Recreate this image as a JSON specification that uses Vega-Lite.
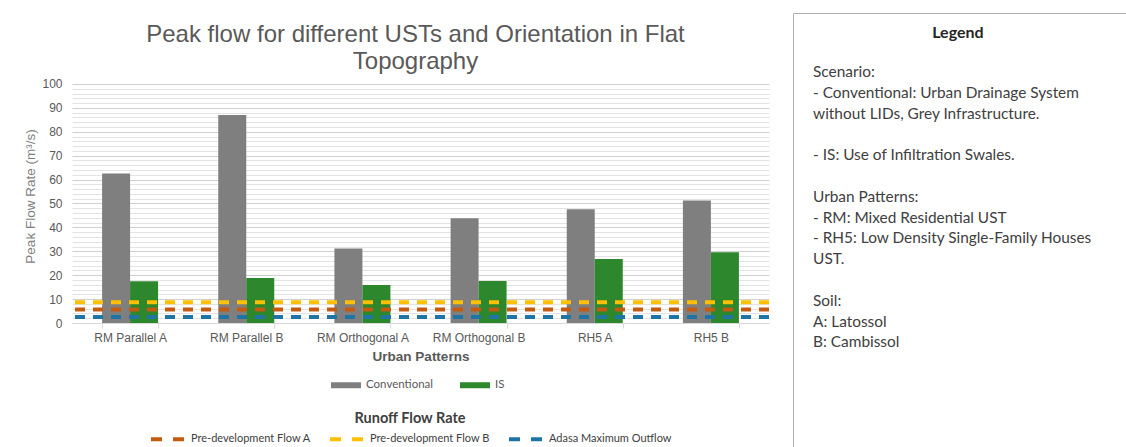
{
  "$schema": "https://vega.github.io/schema/vega-lite/v6.json",
  "background": "white",
  "padding": {"left": 23, "top": 12, "right": 0, "bottom": 0},
  "spacing": 21,
  "config": {"view": {"stroke": null}, "font": "Liberation Sans"},
  "hconcat": [
    {
      "width": 697,
      "height": 310,
      "title": {
        "text": ["Peak flow for different USTs and Orientation in Flat", "Topography"],
        "font": "Liberation Sans",
        "fontSize": 24,
        "fontWeight": "normal",
        "color": "#595959",
        "anchor": "middle",
        "frame": "group",
        "lineHeight": 27,
        "offset": -61,
        "dx": -5
      },
      "layer": [
        {
          "data": {
            "values": [
              {"pattern": "RM Parallel A", "scenario": "Conventional", "value": 62.5},
              {"pattern": "RM Parallel A", "scenario": "IS", "value": 17.5},
              {"pattern": "RM Parallel B", "scenario": "Conventional", "value": 87.0},
              {"pattern": "RM Parallel B", "scenario": "IS", "value": 18.8},
              {"pattern": "RM Orthogonal A", "scenario": "Conventional", "value": 31.2},
              {"pattern": "RM Orthogonal A", "scenario": "IS", "value": 15.9},
              {"pattern": "RM Orthogonal B", "scenario": "Conventional", "value": 43.8},
              {"pattern": "RM Orthogonal B", "scenario": "IS", "value": 17.6},
              {"pattern": "RH5 A", "scenario": "Conventional", "value": 47.6},
              {"pattern": "RH5 A", "scenario": "IS", "value": 26.8},
              {"pattern": "RH5 B", "scenario": "Conventional", "value": 51.3},
              {"pattern": "RH5 B", "scenario": "IS", "value": 29.6}
            ]
          },
          "mark": {"type": "bar"},
          "encoding": {
            "x": {
              "field": "pattern",
              "type": "nominal",
              "sort": null,
              "scale": {"paddingInner": 0.518, "paddingOuter": 0.259},
              "axis": {
                "title": "Urban Patterns",
                "titleFont": "Liberation Sans",
                "titleFontSize": 13.5,
                "titleFontWeight": "bold",
                "titleColor": "#595959",
                "titlePadding": 6,
                "labelFont": "Liberation Sans",
                "labelFontSize": 12,
                "labelColor": "#595959",
                "labelAngle": 0,
                "labelPadding": 4,
                "tickBand": "extent",
                "tickColor": "#d9d9d9",
                "tickSize": 5,
                "domainColor": "#d9d9d9",
                "grid": false
              }
            },
            "xOffset": {
              "field": "scenario",
              "type": "nominal",
              "sort": ["Conventional", "IS"],
              "scale": {"paddingInner": 0, "paddingOuter": 0}
            },
            "y": {
              "field": "value",
              "type": "quantitative",
              "scale": {"domain": [0, 129.7], "nice": false},
              "axis": {
                "title": "Peak Flow Rate (m³/s)",
                "titleFont": "Liberation Sans",
                "titleFontSize": 13.5,
                "titleFontWeight": "normal",
                "titleColor": "#7f7f7f",
                "titlePadding": 4,
                "titleY": 183,
                "tickCount": 200,
                "format": ".0f",
                "values": [0,2,4,6,8,10,12,14,16,18,20,22,24,26,28,30,32,34,36,38,40,42,44,46,48,50,52,54,56,58,60,62,64,66,68,70,72,74,76,78,80,82,84,86,88,90,92,94,96,98,100],
                "labelExpr": "datum.value % 10 === 0 ? datum.label : ''",
                "labelOverlap": false,
                "labelBound": false,
                "labelFont": "Liberation Sans",
                "labelFontSize": 12,
                "labelColor": "#595959",
                "labelPadding": 10,
                "ticks": false,
                "domain": false,
                "grid": true,
                "gridColor": {"condition": {"test": "datum.value % 10 === 0", "value": "#d0d0d0"}, "value": "#e3e3e3"}
              }
            },
            "fill": {
              "field": "scenario",
              "type": "nominal",
              "scale": {"domain": ["Conventional", "IS"], "range": ["#7f7f7f", "#2d872d"]},
              "legend": {
                "orient": "none",
                "legendX": 259,
                "legendY": 357,
                "direction": "horizontal",
                "title": null,
                "padding": 0,
                "symbolType": "M-1,-0.2H1V0.2H-1Z",
                "symbolSize": 900,
                "symbolStrokeWidth": 0,
                "labelFont": "Lato",
                "labelFontSize": 11.5,
                "labelColor": "#595959",
                "labelOffset": 5,
                "columnPadding": 26
              }
            }
          }
        },
        {
          "data": {
            "values": [
              {"series": "Pre-development Flow A", "value": 5.7},
              {"series": "Pre-development Flow B", "value": 8.7},
              {"series": "Adasa Maximum Outflow", "value": 2.5}
            ]
          },
          "mark": {"type": "rule", "strokeDash": [10, 8], "strokeWidth": 4},
          "encoding": {
            "y": {"field": "value", "type": "quantitative"},
            "stroke": {
              "field": "series",
              "type": "nominal",
              "scale": {
                "domain": ["Pre-development Flow A", "Pre-development Flow B", "Adasa Maximum Outflow"],
                "range": ["#c55a11", "#ffc000", "#1f74a6"]
              },
              "legend": {
                "orient": "none",
                "legendX": 77,
                "legendY": 399,
                "direction": "horizontal",
                "padding": 0,
                "title": "Runoff Flow Rate",
                "titleFont": "Lato",
                "titleFontSize": 14.5,
                "titleFontWeight": "bold",
                "titleColor": "#404040",
                "titleAnchor": "middle",
                "titlePadding": -6,
                "symbolType": "stroke",
                "symbolSize": 1089,
                "symbolStrokeWidth": 4,
                "symbolDash": [11, 11],
                "labelFont": "Lato",
                "labelFontSize": 11,
                "labelColor": "#404040",
                "labelOffset": 5,
                "columnPadding": 11
              }
            }
          }
        }
      ]
    },
    {
      "width": 340,
      "height": 445,
      "view": {"stroke": "#b0b0b0", "strokeWidth": 1},
      "data": {
        "values": [
          {"line": -2, "text": "Legend", "kind": "heading"},
          {"line": 0, "text": "Scenario:", "kind": "body"},
          {"line": 1, "text": "- Conventional: Urban Drainage System", "kind": "body"},
          {"line": 2, "text": "without LIDs, Grey Infrastructure.", "kind": "body"},
          {"line": 4, "text": "- IS: Use of Infiltration Swales.", "kind": "body"},
          {"line": 6, "text": "Urban Patterns:", "kind": "body"},
          {"line": 7, "text": "- RM: Mixed Residential UST", "kind": "body"},
          {"line": 8, "text": "- RH5: Low Density Single-Family Houses", "kind": "body"},
          {"line": 9, "text": "UST.", "kind": "body"},
          {"line": 11, "text": "Soil:", "kind": "body"},
          {"line": 12, "text": "A: Latossol", "kind": "body"},
          {"line": 13, "text": "B: Cambissol", "kind": "body"}
        ]
      },
      "layer": [
        {
          "transform": [{"filter": "datum.kind === 'heading'"}],
          "mark": {"type": "text", "font": "Lato", "fontSize": 16, "fontWeight": "bold", "color": "#262626", "align": "center", "baseline": "middle", "dy": 2.6},
          "encoding": {
            "x": {"datum": 0.485, "type": "quantitative", "scale": {"domain": [0, 1]}, "axis": null},
            "y": {"field": "line", "type": "quantitative", "scale": {"domain": [-2.837, 18.558], "reverse": true, "nice": false, "zero": false}, "axis": null},
            "text": {"field": "text"}
          }
        },
        {
          "transform": [{"filter": "datum.kind === 'body'"}],
          "mark": {"type": "text", "font": "Lato", "fontSize": 15.4, "color": "#404040", "align": "left", "baseline": "middle"},
          "encoding": {
            "x": {"datum": 0.059, "type": "quantitative"},
            "y": {"field": "line", "type": "quantitative"},
            "text": {"field": "text"}
          }
        }
      ]
    }
  ]
}
